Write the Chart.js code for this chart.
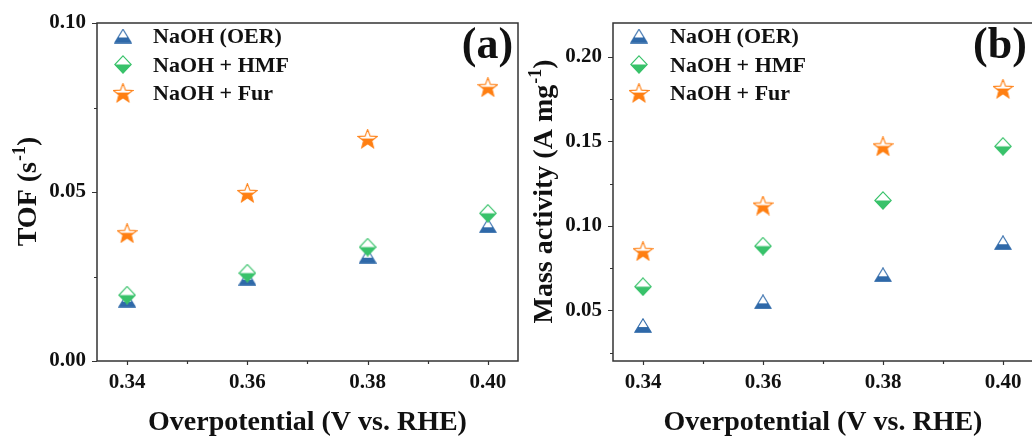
<!DOCTYPE html>
<html>
<head>
<meta charset="utf-8">
<script src="https://cdn.jsdelivr.net/npm/chart.js@4/dist/chart.umd.min.js"></script>
<style>
  html, body { margin: 0; padding: 0; background: #fff; overflow: hidden; width: 1032px; height: 443px; }
  .panel { position: absolute; top: 0; width: 520px; height: 443px; }
  #panelA { left: 0; }
  #panelB { left: 520px; }
</style>
</head>
<body>
<div class="panel" id="panelA"><canvas id="tofChart" width="520" height="443"></canvas></div>
<div class="panel" id="panelB"><canvas id="massChart" width="520" height="443"></canvas></div>
<script>
// ---- data ----
const overpotential = [0.34, 0.36, 0.38, 0.40];
const seriesNames = ['NaOH (OER)', 'NaOH + HMF', 'NaOH + Fur'];

const tofOER = [0.018, 0.0245, 0.031, 0.040];
const tofHMF = [0.0195, 0.026, 0.0337, 0.0437];
const tofFur = [0.0378, 0.0497, 0.0657, 0.081];

const massOER = [0.041, 0.055, 0.071, 0.090];
const massHMF = [0.064, 0.088, 0.115, 0.147];
const massFur = [0.085, 0.112, 0.147, 0.181];

const xTickValues = [0.34, 0.36, 0.38, 0.40];
const xMinorValues = [0.35, 0.37, 0.39];
const tofTickValues = [0.00, 0.05, 0.10];
const tofMinorValues = [0.025, 0.075];
const massTickValues = [0.05, 0.10, 0.15, 0.20];
const massMinorValues = [0.025, 0.075, 0.125, 0.175];

// ---- styling ----
const FAMILY = "'Liberation Serif', 'Times New Roman', serif";
const INK = '#111';
const AXIS = '#333';
const seriesColors = ['#2f69a9', '#38c26a', '#ff7f12'];
const seriesShapes = ['triangle', 'diamond', 'star'];

Chart.defaults.font.family = FAMILY;
Chart.defaults.color = INK;

// Half-filled open markers: outline in the series colour, lower part filled.
function makeMarker(shape, color) {
  const c = document.createElement('canvas');
  let w, h;
  const p = new Path2D();
  let fillFrom;
  if (shape === 'triangle') {
    w = 18; h = 15;
    p.moveTo(w / 2, 0.8); p.lineTo(w - 0.8, h - 0.8); p.lineTo(0.8, h - 0.8); p.closePath();
    fillFrom = h * 0.6;
  } else if (shape === 'diamond') {
    w = 18; h = 19;
    p.moveTo(w / 2, 0.8); p.lineTo(w - 0.8, h / 2); p.lineTo(w / 2, h - 0.8); p.lineTo(0.8, h / 2); p.closePath();
    fillFrom = h / 2;
  } else {
    w = 21; h = 20;
    const cx = w / 2, cy = 10.6, R = 10, r = 4.3;
    for (let k = 0; k < 10; k++) {
      const rad = k % 2 === 0 ? R : r;
      const a = -Math.PI / 2 + k * Math.PI / 5;
      const px = cx + rad * Math.cos(a), py = cy + rad * Math.sin(a);
      if (k === 0) p.moveTo(px, py); else p.lineTo(px, py);
    }
    p.closePath();
    fillFrom = cy - 1;
  }
  c.width = w; c.height = h;
  const g = c.getContext('2d');
  g.fillStyle = '#fff';
  g.fill(p);
  g.save();
  g.clip(p);
  g.fillStyle = color;
  g.fillRect(0, fillFrom, w, h);
  g.restore();
  g.lineWidth = 1.1;
  g.lineJoin = 'miter';
  g.strokeStyle = color;
  g.stroke(p);
  return c;
}

const markers = seriesShapes.map((s, i) => makeMarker(s, seriesColors[i]));

function buildDatasets(seriesValues) {
  return seriesValues.map((vals, i) => ({
    label: seriesNames[i],
    data: overpotential.map((x, j) => ({ x: x, y: vals[j] })),
    pointStyle: markers[i],
    pointRadius: 9,
    pointHoverRadius: 9,
    showLine: false,
    order: 3 - i
  }));
}

// Frame, tick marks, rotated y title with superscript, inset legend and panel tag.
function decorPlugin(cfg) {
  return {
    id: 'decor',
    beforeDatasetsDraw(chart) {
      const ctx = chart.ctx;
      const a = chart.chartArea;
      const xs = chart.scales.x, ys = chart.scales.y;
      ctx.save();
      ctx.strokeStyle = AXIS;
      ctx.lineWidth = 1.5;
      ctx.strokeRect(a.left, a.top, a.right - a.left, a.bottom - a.top);
      ctx.lineWidth = 1.2;
      ctx.beginPath();
      const xTick = (v, len) => {
        const px = Math.round(xs.getPixelForValue(v)) + 0.5;
        ctx.moveTo(px, a.bottom); ctx.lineTo(px, a.bottom + len);
      };
      const yTick = (v, len) => {
        const py = Math.round(ys.getPixelForValue(v)) + 0.5;
        ctx.moveTo(a.left, py); ctx.lineTo(a.left - len, py);
      };
      xTickValues.forEach(v => xTick(v, 4));
      xMinorValues.forEach(v => xTick(v, 3));
      cfg.yTicks.forEach(v => yTick(v, 5));
      cfg.yMinor.forEach(v => yTick(v, 3));
      ctx.stroke();
      ctx.restore();
    },
    afterDraw(chart) {
      const ctx = chart.ctx;
      const a = chart.chartArea;
      ctx.save();
      ctx.fillStyle = INK;

      // y-axis title with superscript unit exponent
      ctx.translate(cfg.titleX, (a.top + a.bottom) / 2);
      ctx.rotate(-Math.PI / 2);
      const fMain = 'bold 28px ' + FAMILY;
      const fSup = 'bold 18px ' + FAMILY;
      ctx.font = fMain;
      const w1 = ctx.measureText(cfg.titleMain).width;
      const w3 = ctx.measureText(')').width;
      ctx.font = fSup;
      const w2 = ctx.measureText(cfg.titleSup).width;
      const x0 = -(w1 + w2 + w3) / 2;
      const base = 9;
      ctx.textAlign = 'left';
      ctx.textBaseline = 'alphabetic';
      ctx.font = fMain;
      ctx.fillText(cfg.titleMain, x0, base);
      ctx.font = fSup;
      ctx.fillText(cfg.titleSup, x0 + w1 + 1, base - 11);
      ctx.font = fMain;
      ctx.fillText(')', x0 + w1 + w2 + 1, base);
      ctx.setTransform(1, 0, 0, 1, 0, 0);

      // legend
      ctx.font = 'bold 22px ' + FAMILY;
      ctx.textBaseline = 'middle';
      chart.data.datasets.forEach((ds, i) => {
        const img = ds.pointStyle;
        const my = cfg.legendY + i * cfg.legendGap;
        ctx.drawImage(img, cfg.legendMarkerX - img.width / 2, my - 1.5 - img.height / 2);
        ctx.fillText(ds.label, cfg.legendTextX, my);
      });

      // panel tag
      ctx.font = 'bold 44px ' + FAMILY;
      ctx.textAlign = 'center';
      ctx.textBaseline = 'alphabetic';
      ctx.fillText(cfg.tag, cfg.tagX, 58);
      ctx.restore();
    }
  };
}

function makePanel(canvasId, seriesValues, yMin, yMax, yTicks, yMinor, padRight, yWidth, cfg) {
  cfg.yTicks = yTicks;
  cfg.yMinor = yMinor;
  return new Chart(document.getElementById(canvasId), {
    type: 'scatter',
    data: { datasets: buildDatasets(seriesValues) },
    options: {
      responsive: false,
      animation: false,
      events: [],
      layout: { autoPadding: false, padding: { left: 0, right: padRight, top: 23, bottom: 0 } },
      plugins: { legend: { display: false }, tooltip: { enabled: false } },
      scales: {
        x: {
          type: 'linear',
          min: 0.335,
          max: 0.405,
          afterBuildTicks: s => { s.ticks = xTickValues.map(v => ({ value: v })); },
          afterFit: s => { s.height = 82; s.paddingLeft = 0; s.paddingRight = 0; },
          grid: { display: false, drawTicks: false },
          border: { display: false },
          ticks: {
            padding: 9,
            autoSkip: false,
            maxRotation: 0,
            color: INK,
            font: { size: 21, weight: 'bold' },
            callback: v => Number(v).toFixed(2)
          },
          title: {
            display: true,
            text: 'Overpotential (V vs. RHE)',
            color: INK,
            font: { size: 28, weight: 'bold' },
            padding: { top: 0, bottom: 3 }
          }
        },
        y: {
          type: 'linear',
          min: yMin,
          max: yMax,
          afterBuildTicks: s => { s.ticks = yTicks.map(v => ({ value: v })); },
          afterFit: s => { s.width = yWidth; s.paddingTop = 0; s.paddingBottom = 0; },
          grid: { display: false, drawTicks: false },
          border: { display: false },
          ticks: {
            padding: 11,
            color: INK,
            font: { size: 21, weight: 'bold' },
            callback: v => Number(v).toFixed(2)
          }
        }
      }
    },
    plugins: [decorPlugin(cfg)]
  });
}

makePanel('tofChart', [tofOER, tofHMF, tofFur], 0, 0.10, tofTickValues, tofMinorValues, 2, 97, {
  titleX: 27, titleMain: 'TOF (s', titleSup: '-1',
  legendMarkerX: 123, legendTextX: 153, legendY: 37.5, legendGap: 28.5,
  tag: '(a)', tagX: 487.5
});

makePanel('massChart', [massOER, massHMF, massFur], 0.02, 0.22, massTickValues, massMinorValues, 7, 93, {
  titleX: 23, titleMain: 'Mass activity (A mg', titleSup: '-1',
  legendMarkerX: 119, legendTextX: 150, legendY: 37.5, legendGap: 28.5,
  tag: '(b)', tagX: 480
});
</script>
</body>
</html>
